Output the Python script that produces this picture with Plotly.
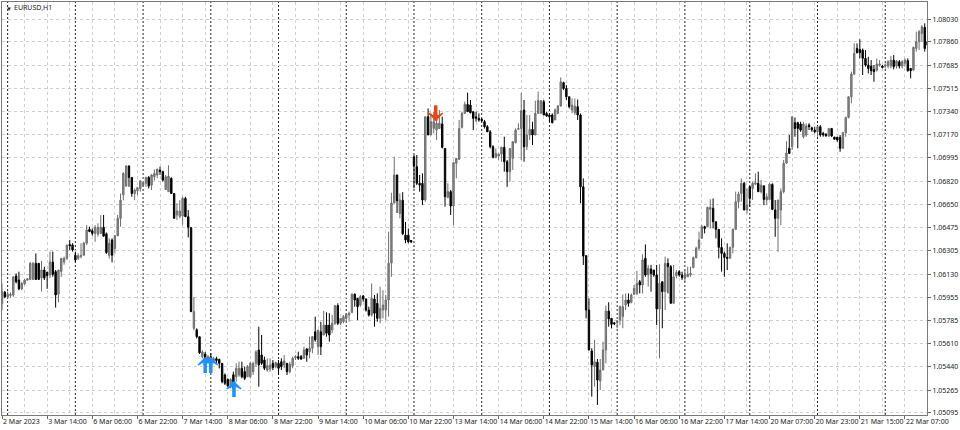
import plotly.graph_objects as go

BASE = 1.05
opens = [
91,99.4,96,97,97.4,111.6,108.6,102,105.6,108.5,
109,109,121,121,110,116,114.3,112.3,122,114.8,
98,115,122,124.7,135,134.7,127,124.7,126,127,
136,146.3,145.3,143.3,142.8,143.3,147.8,143,127,138.4,
132,141.5,154.5,172,178.6,193.5,185,173,175,176.8,
179,180.6,185,179.3,185.5,186.8,190.5,189.3,176,174.4,
184.3,173,157,156,156.2,169.4,155.7,147.5,72.6,71.5,
66.3,51.4,53.4,48.5,51.4,48.5,50,49.4,46.5,37.8,
34.5,30.3,38,36.5,37.8,42.8,40.3,36.5,36.5,40.3,
46.5,56.4,52.7,49,41.5,42.3,46.5,44,46.5,47.7,
45.3,46.5,40.3,44.8,50.5,51.5,51.5,50.2,57.2,55.2,
57.7,70,58.9,70,67.6,75,75,71.3,76.3,89.5,
76.3,77.5,80,82.5,84.5,98,94.9,90,96.7,94.4,
86.2,82.5,94.4,91.2,80,86.2,86.2,93.7,121.2,165.9,
186.8,158.2,168,142,142,138,200.4,193,180.6,180.6,
168.2,230.2,216.6,221.5,220.3,221.5,224.8,206.6,170.2,174.4,
163.7,195.5,198.5,222.3,232.7,239.4,238.9,234,230.2,229,
228.3,226.5,222.8,219,207.9,200,201,202.4,207.4,196.7,
189.3,199.2,210.9,220.8,221.5,235.2,207.9,216.6,220.8,216.6,
232.7,232.7,241.4,232.7,231.5,231.5,227.8,232.7,238.2,255.6,
251.3,245.1,235.2,233.2,237.7,231.5,178,126.7,86.2,55.7,
44,47.3,33.3,41.5,56.4,85.5,80,76.7,77,78.8,
81.3,90,93.7,92,97.9,98.6,107.3,104.9,124.7,112.3,
116.8,116,112.3,87,107.3,99.9,121,118.5,91.2,111.8,
114.8,112.3,110.3,111,112.3,117.8,125.2,132.2,139.6,148.3,
148.3,161.2,162,152,146.3,132.9,128.4,125.4,124.7,132.9,
146.3,166.9,173.1,180.6,160.7,178.1,176.8,180,180.6,174.4,
178.6,168.2,168.6,179.8,160.7,154.5,160.7,174.4,195.7,206.7,
207.9,225.8,225.8,224.8,215.3,216.6,224,222,220.3,219,
222.8,217.8,217.3,215.8,221.5,215,214.9,214.9,206.7,218.3,
229.7,245.1,262,281.1,280.4,279.9,273.7,268.7,268,265.5,
265,268.7,268,268,268,268,272.4,268,271.2,268,
270,272,266.2,265,281.1,286.1,292.3,296.8,286.1,
]
highs = [
106,100.4,100,99.4,111.6,113.5,114.8,107.3,109.3,110,
122,122,128.4,121,122.7,118.5,114.8,129.7,129.7,116,
116,125,126,134.7,138.4,136,129.7,128.4,136,137,
149.5,148.3,147,149.5,150.8,157,157,144,139.6,139.6,
142,157,173,189,194,194,185,176.8,178,183,
181.8,185.5,186,187.5,191,191.7,193,190,186.8,194,
185,173,165.7,168,170.6,170.6,160.7,148,96,72.5,
66.3,56.4,55,52.7,54,51.4,51.4,50,46.5,39,
35.3,35.3,40.3,46.5,47.7,47.7,44,45.2,47.7,47.7,
56.4,73.8,67.6,51.5,50.2,50.2,49,47.7,49,50.2,
52.7,46.5,47.7,51.5,52.7,55.2,52.7,58.9,57.7,66.4,
66.4,81.3,71.3,77.5,85.5,84.5,83.8,82.5,89.5,91.2,
80,82.5,83.8,85,98.6,98.6,94.9,97.4,97.4,94.9,
88.7,106,97.4,98.6,103.6,101,97.4,144.6,173.6,200.4,
187,173.1,174,151.8,147,138.4,201.7,201.7,186.8,188,
230.2,236.4,232.7,234,231.5,235.2,230.2,206.6,180.6,175.6,
196.7,199.2,227.8,234,241.4,248.1,242.7,234,234,232.7,
229,227.8,224,220.3,209,206.6,202.9,207.9,215.3,198,
206.6,211.6,221.5,225.3,248.1,242.7,231.5,231.5,226.5,242.2,
248.9,242.7,242.7,234,232.7,232.7,236.4,238.9,259.5,256.3,
253.8,245.1,243.9,243.9,243.1,232.7,184.3,127,94.9,57.7,
63.9,49.7,49.7,62.6,89.5,92,80,77,78.8,89.5,
97.9,98.6,98.6,98.6,104.9,115.3,108.6,127.7,135.1,119.8,
119.8,116,119.8,120.3,107.3,126,124.7,119.8,119.8,116,
116,114.8,116,118.5,118.5,126,133.4,144.6,149.6,149,
163.2,168.7,169.4,152,146.3,139.6,129.7,135.9,133.4,147,
174.4,174.4,184.3,181.8,176.8,178.1,181.8,188,189.3,183,
179.3,173.1,181,180.6,168.2,168.2,176.8,198,212,216.6,
230.2,229.7,226.5,226.5,226.5,225.3,225.3,222.8,222.8,223.3,
224,219,217.8,221.5,221.5,215.3,215.3,216.6,219,230.2,
245.1,263.8,284.9,284.9,287.9,281.1,279.9,274.9,272.4,268.7,
273.7,272.4,268.7,270,272.4,275.4,276.2,272.4,272.4,272.4,
273.7,273.7,266.2,282.4,293.6,294.8,298.5,299.8,288.6,
]
lows = [
86,95,95,95.4,96,106,101,101,105,108,
108.6,108.6,108.6,108.6,100,108.6,102,110,111,88,
92,111,120,123.5,131,129.7,122,123.5,124.7,127,
134.7,144.6,141.6,137,141,143.3,140.8,128,124.7,121.7,
128.4,142,148.3,168,178,178,170.6,168,171.9,174.4,
178,178,176.8,175.6,182.6,184.3,186.8,181.8,175.6,174.4,
173,154.5,153.3,154.5,149.5,155.7,140.3,85,71,65,
53.5,50.2,47.7,47.7,47.7,46.5,46.5,42.7,31.6,30.3,
29,27.8,26.6,32.8,36.5,35.3,34,36.5,35.3,37.8,
44,29.1,45.3,41.5,40.3,40.3,41.5,42.8,37.8,41.5,
42.8,37.8,39,42.8,49,49,49,50.2,47.7,50.2,
54,62.6,52.7,52.7,67.6,66.4,62.6,68.9,75,75,
75,76.3,77.5,77.5,83.8,88.7,78.8,88.7,92.4,85,
81.3,81.3,73.8,77.5,76.3,80,78.8,81.3,111,165.9,
158.5,154.5,142,136,136,136,176.9,179.3,174.4,164.4,
166.9,216.6,216.6,217.8,212.9,221.5,206.6,163.2,169.4,157,
149.5,184.3,198,221.5,232.7,234,232.7,220.3,226.5,226.5,
226.5,221.5,219,206.6,199.2,199.2,198,196.7,189.3,178,
181.8,190.5,210.4,220.3,198,196.7,205.4,212.9,209.1,217.8,
232.7,232.7,231.5,230.2,226.5,225.3,227.8,232.7,237.7,250.1,
242.7,236.4,232.7,231.5,227.8,165.7,119.8,80,56.4,21.7,
29.1,15.5,26.6,41.5,46.5,73.8,72.6,75,72.6,75,
72.6,86.2,88.7,91.2,97.4,97.4,98.6,98.6,111,103.6,
99.9,111,75,50.2,72.6,86.2,98.6,91.2,91.2,109.8,
111,108.6,107.3,111,111,117.3,124.7,130.9,139.6,143.3,
148.3,147,147,139.6,124.7,114.8,111,116,124.7,128.4,
145.8,162,166.9,160.7,158.2,163.2,168.2,179.3,174.4,173.1,
164.4,164.4,168.2,160.7,140.8,129.7,149.5,173.1,195,202.9,
205.4,215.3,206.7,219,214.1,215.3,220.3,219,217.8,215.3,
215.3,215.3,215.3,215.3,215.3,212.9,211.6,204.1,206.7,215.3,
229,240.2,261.3,277.4,273.7,261.3,267.5,262.5,261.3,256.3,
263.8,267.5,266.2,266.2,266.2,266.2,265.5,266.2,266.2,266.2,
267.5,263.8,258.8,264.5,278.7,279.9,286.1,278.7,274.9,
]
closes = [
100,96,98,98,110.8,107.3,102,106,108.6,109.5,
121,121,109,109,116,110,111.8,122,112.8,97.4,
116,124.7,124.7,134.7,134,131,123.5,126.7,127,136,
145.8,144.6,143.3,147.8,147.8,147.8,141.3,129,136,127,
141.6,154.5,168,188,193.5,185,173,175.6,177.3,182.3,
181,185,178.6,186.8,188,191,189.3,183,185.5,186,
173,154.5,160,160,169.4,155.7,147.8,85,85,66.3,
54.4,55,49,51.4,49,50,48.5,46.5,32.8,31.6,
29.6,34.5,28,42.8,42.8,36.5,35.3,44,46.5,46.5,
55,45.3,46.5,42.8,44.8,45.3,43.3,47,42.8,44,
48.2,40.3,45.8,50.2,51.5,50.2,49.7,56.4,52.7,57.7,
66.4,63.9,71.3,58.9,75,68.9,67.6,76.3,89.5,76.3,
80,81.3,83,83.8,98,93.7,88.7,96.2,94.4,86.2,
82.5,94.9,83.8,80,87.5,90,93.7,121,165.9,186.8,
167.6,168.2,143,138.4,137,137,193.5,180.6,179.3,168.2,
230.2,216.6,226.5,226.5,225.3,225.3,207.4,170.6,174.4,163.7,
196,199.2,221.5,232.7,239.4,234,233.2,229,229,227.8,
227.3,222.8,219,207.9,200,202.9,202.4,207.4,196.7,189.3,
206.6,211.6,220.3,221.5,234.7,207.9,216.6,220.8,216.6,232.7,
242.2,242.2,231.5,230.7,230.2,225.8,235.2,238.2,256.3,251.3,
245.1,237.7,238.9,238.2,231.5,178,126.4,86.2,56.4,45.3,
47.7,34,41.5,56.4,85.5,79.5,75.6,76,78,88.7,
88.7,93.7,91.2,97.4,102.4,106,104.9,123.5,112.3,117.3,
113.5,112.3,87,106,99.9,121,118.5,91.2,111,114.3,
112.3,110.3,112.3,112.8,113.5,125.2,132.2,138.4,148.3,147,
162.7,162.7,152,146.3,132.9,128.4,125.4,124.7,132.9,146.3,
166.9,172.6,180.6,160.7,164.4,169.4,180.6,181,174.4,179.3,
168.6,170.6,180,161.2,154.5,168.2,174.4,195.5,203.2,202.9,
230.2,221.5,221.5,220.3,224.8,223.3,222.8,220.5,219,222.8,
216.6,216.6,216,221.5,215.8,213.5,212.9,206.7,218.3,229.7,
245.1,262,277.4,277.9,277.9,273.7,268.7,266.2,264.5,263.8,
269.5,269.5,267,268.7,271.2,272.4,267.5,271.7,268,271.2,
272.4,264.5,264.5,281.9,286.1,293.6,297.3,281.1,283.6,
]
assert len(opens) == len(highs) == len(lows) == len(closes), (len(opens), len(highs), len(lows), len(closes))

price_ticks = [1.08030,1.07860,1.07685,1.07515,1.07340,1.07170,1.06995,1.06820,1.06650,
               1.06475,1.06305,1.06130,1.05955,1.05785,1.05610,1.05440,1.05265,1.05095]
time_labels = ["2 Mar 2023","3 Mar 14:00","6 Mar 06:00","6 Mar 22:00","7 Mar 14:00","8 Mar 06:00",
               "8 Mar 22:00","9 Mar 14:00","10 Mar 06:00","10 Mar 22:00","13 Mar 14:00","14 Mar 06:00",
               "14 Mar 22:00","15 Mar 14:00","16 Mar 06:00","16 Mar 22:00","17 Mar 14:00","20 Mar 07:00",
               "20 Mar 23:00","21 Mar 15:00","22 Mar 07:00"]
time_bars = [16*i for i in range(len(time_labels))]
day_bars = [2,26,50,74,98,122,146,170,194,218,242,265,289,313]
buy_bars = [72,74,82.2]
buy_tips = [1.05505,1.05505,1.05326]
buy_shafts = [1.05450,1.05450,1.05271]
sell_bars = [153.7]
sell_tips = [1.07278]
sell_shafts = [1.07330]

bars = list(range(len(opens)))
toP = lambda a: [round(BASE + v/10000, 5) for v in a]

fig = go.Figure()
fig.add_trace(go.Candlestick(
    x=bars, open=toP(opens), high=toP(highs), low=toP(lows), close=toP(closes),
    increasing=dict(line=dict(color="#6e6e6e", width=1), fillcolor="#8c8c8c"),
    decreasing=dict(line=dict(color="#000000", width=1), fillcolor="#000000"),
    whiskerwidth=0, showlegend=False, hoverinfo="skip"))
def arrow(xs, tips, shafts, color, angle):
    fig.add_trace(go.Scatter(x=xs, y=shafts, mode="markers", showlegend=False, hoverinfo="skip",
        marker=dict(symbol="line-ns", size=11, line=dict(width=3.5, color=color))))
    fig.add_trace(go.Scatter(x=xs, y=tips, mode="markers", showlegend=False, hoverinfo="skip",
        marker=dict(symbol="arrow-wide", size=10, color=color, angle=angle, line=dict(width=1.5, color=color))))
arrow(buy_bars, buy_tips, buy_shafts, "#1e90ff", 0)
arrow(sell_bars, sell_tips, sell_shafts, "#f0440f", 180)

shapes = [dict(type="line", xref="x", yref="paper", x0=b, x1=b, y0=0, y1=1, layer="below",
               line=dict(color="#222222", width=1, dash="2px,2px")) for b in day_bars]

fig.update_layout(
    width=960, height=430, paper_bgcolor="white", plot_bgcolor="white",
    margin=dict(l=2, r=33, t=2, b=15, autoexpand=False),
    font=dict(family="Noto Sans, sans-serif", size=7, color="#222222"),
    boxgap=0.3, shapes=shapes, showlegend=False, hovermode=False,
    xaxis=dict(range=[0, 327.8], rangeslider=dict(visible=False), tickmode="array", tickvals=time_bars,
               ticktext=time_labels, tickangle=0, ticks="outside", ticklen=3, tickcolor="#666666", ticklabelposition="outside right",
               showline=True, linecolor="#7a7a7a", linewidth=1, mirror=True, showgrid=True,
               gridcolor="#cfcfcf", griddash="3px,3px", gridwidth=1, zeroline=False,
               minor=dict(tickmode="linear", tick0=0, dtick=8, showgrid=True, gridcolor="#cfcfcf", griddash="3px,3px", gridwidth=1, ticks="")),
    yaxis=dict(range=[1.05080, 1.08157], side="right", tickmode="array", tickvals=price_ticks,
               ticktext=[f"{p:.5f}" for p in price_ticks], ticks="outside", ticklen=3, tickcolor="#666666",
               showline=True, linecolor="#7a7a7a", linewidth=1, mirror=True, showgrid=True,
               gridcolor="#cfcfcf", griddash="3px,3px", gridwidth=1, zeroline=False),
    annotations=[
        dict(text="▼", xref="paper", yref="paper", x=0.0, y=1, xshift=2, yshift=-1, xanchor="left", yanchor="top", showarrow=False, font=dict(size=6, color="#222222")),
        dict(text="EURUSD,H1", xref="paper", yref="paper", x=0.0, y=1, xshift=10, yshift=1, xanchor="left", yanchor="top", showarrow=False, font=dict(size=7, color="#222222")),
    ])
fig.write_html("out.html", config={"displayModeBar": False}, post_script="document.body.style.margin='0';document.body.style.padding='0';")
